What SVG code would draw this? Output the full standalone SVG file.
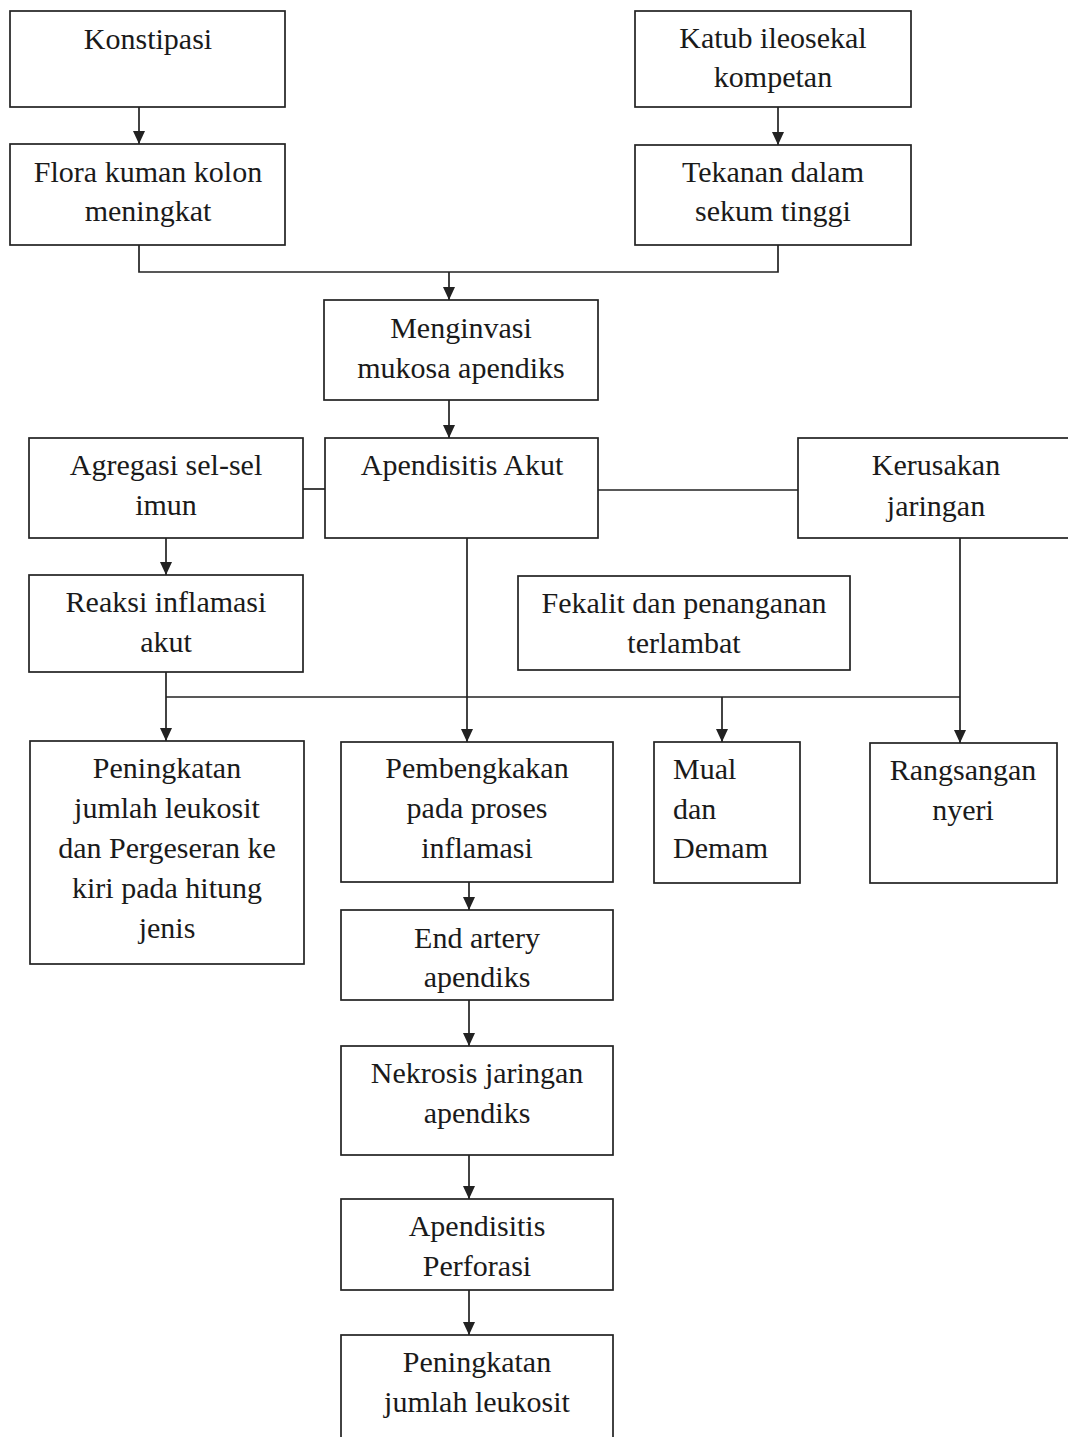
<svg xmlns="http://www.w3.org/2000/svg" width="1068" height="1437" viewBox="0 0 1068 1437">
<style>
.box{fill:#fff;stroke:#222;stroke-width:1.7}
.t{font-family:"Liberation Serif","Times New Roman",serif;font-size:30px;fill:#1a1a1a;text-anchor:middle}
.tl{font-family:"Liberation Serif","Times New Roman",serif;font-size:30px;fill:#1a1a1a;text-anchor:start}
.c{fill:none;stroke:#222;stroke-width:1.7}
</style>
<defs>
<marker id="arr" markerUnits="userSpaceOnUse" markerWidth="14" markerHeight="13" refX="13" refY="6.5" orient="auto" viewBox="0 0 14 13">
<path d="M0,0.5 L13,6.5 L0,12.5 z" fill="#222"/>
</marker>
</defs>
<rect width="1068" height="1437" fill="#fff"/>
<g id="connectors">
<line class="c" x1="139" y1="107" x2="139" y2="144" marker-end="url(#arr)"/>
<line class="c" x1="778" y1="107" x2="778" y2="145" marker-end="url(#arr)"/>
<polyline class="c" points="139,245 139,272 778,272 778,245"/>
<line class="c" x1="449" y1="272" x2="449" y2="300" marker-end="url(#arr)"/>
<line class="c" x1="449" y1="400" x2="449" y2="438" marker-end="url(#arr)"/>
<line class="c" x1="303" y1="489" x2="325" y2="489"/>
<line class="c" x1="598" y1="490" x2="798" y2="490"/>
<line class="c" x1="166" y1="538" x2="166" y2="575" marker-end="url(#arr)"/>
<line class="c" x1="467" y1="538" x2="467" y2="742" marker-end="url(#arr)"/>
<line class="c" x1="166" y1="672" x2="166" y2="741" marker-end="url(#arr)"/>
<line class="c" x1="166" y1="697" x2="960" y2="697"/>
<line class="c" x1="722" y1="697" x2="722" y2="742" marker-end="url(#arr)"/>
<line class="c" x1="960" y1="538" x2="960" y2="743" marker-end="url(#arr)"/>
<line class="c" x1="469" y1="882" x2="469" y2="910" marker-end="url(#arr)"/>
<line class="c" x1="469" y1="1000" x2="469" y2="1046" marker-end="url(#arr)"/>
<line class="c" x1="469" y1="1155" x2="469" y2="1199" marker-end="url(#arr)"/>
<line class="c" x1="469" y1="1290" x2="469" y2="1335" marker-end="url(#arr)"/>
</g>
<g id="konstipasi"><rect class="box" x="10" y="11" width="275" height="96"/><text class="t" x="148" y="49">Konstipasi</text></g>
<g id="flora"><rect class="box" x="10" y="144" width="275" height="101"/><text class="t" x="148" y="182">Flora kuman kolon</text><text class="t" x="148" y="221">meningkat</text></g>
<g id="katub"><rect class="box" x="635" y="11" width="276" height="96"/><text class="t" x="773" y="48">Katub ileosekal</text><text class="t" x="773" y="87">kompetan</text></g>
<g id="tekanan"><rect class="box" x="635" y="145" width="276" height="100"/><text class="t" x="773" y="182">Tekanan dalam</text><text class="t" x="773" y="221">sekum tinggi</text></g>
<g id="menginvasi"><rect class="box" x="324" y="300" width="274" height="100"/><text class="t" x="461" y="338">Menginvasi</text><text class="t" x="461" y="378">mukosa apendiks</text></g>
<g id="agregasi"><rect class="box" x="29" y="438" width="274" height="100"/><text class="t" x="166" y="475">Agregasi sel-sel</text><text class="t" x="166" y="515">imun</text></g>
<g id="akut"><rect class="box" x="325" y="438" width="273" height="100"/><text class="t" x="462" y="475">Apendisitis Akut</text></g>
<g id="kerusakan"><rect class="box" x="798" y="438" width="290" height="100"/><text class="t" x="936" y="475">Kerusakan</text><text class="t" x="936" y="516">jaringan</text></g>
<g id="reaksi"><rect class="box" x="29" y="575" width="274" height="97"/><text class="t" x="166" y="612">Reaksi inflamasi</text><text class="t" x="166" y="652">akut</text></g>
<g id="fekalit"><rect class="box" x="518" y="576" width="332" height="94"/><text class="t" x="684" y="613">Fekalit dan penanganan</text><text class="t" x="684" y="653">terlambat</text></g>
<g id="peningkatan1"><rect class="box" x="30" y="741" width="274" height="223"/><text class="t" x="167" y="778">Peningkatan</text><text class="t" x="167" y="818">jumlah leukosit</text><text class="t" x="167" y="858">dan Pergeseran ke</text><text class="t" x="167" y="898">kiri pada hitung</text><text class="t" x="167" y="938">jenis</text></g>
<g id="pembengkakan"><rect class="box" x="341" y="742" width="272" height="140"/><text class="t" x="477" y="778">Pembengkakan</text><text class="t" x="477" y="818">pada proses</text><text class="t" x="477" y="858">inflamasi</text></g>
<g id="mual"><rect class="box" x="654" y="742" width="146" height="141"/><text class="tl" x="673" y="779">Mual</text><text class="tl" x="673" y="819">dan</text><text class="tl" x="673" y="858">Demam</text></g>
<g id="rangsangan"><rect class="box" x="870" y="743" width="187" height="140"/><text class="t" x="963" y="780">Rangsangan</text><text class="t" x="963" y="820">nyeri</text></g>
<g id="endartery"><rect class="box" x="341" y="910" width="272" height="90"/><text class="t" x="477" y="948">End artery</text><text class="t" x="477" y="987">apendiks</text></g>
<g id="nekrosis"><rect class="box" x="341" y="1046" width="272" height="109"/><text class="t" x="477" y="1083">Nekrosis jaringan</text><text class="t" x="477" y="1123">apendiks</text></g>
<g id="perforasi"><rect class="box" x="341" y="1199" width="272" height="91"/><text class="t" x="477" y="1236">Apendisitis</text><text class="t" x="477" y="1276">Perforasi</text></g>
<g id="peningkatan2"><rect class="box" x="341" y="1335" width="272" height="130"/><text class="t" x="477" y="1372">Peningkatan</text><text class="t" x="477" y="1412">jumlah leukosit</text></g>
</svg>
